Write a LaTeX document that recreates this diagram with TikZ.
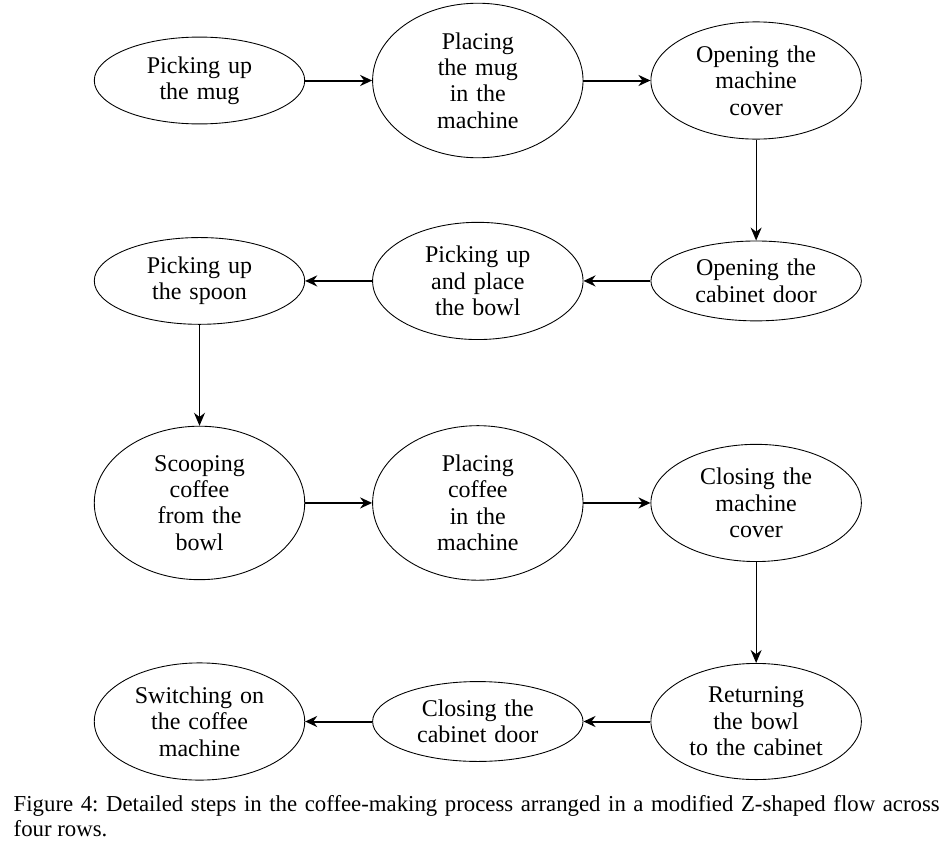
\documentclass[tikz,border=0pt]{standalone}
\usepackage{fontspec}
\setmainfont{Liberation Serif}
\usetikzlibrary{positioning,shapes.geometric,arrows.meta}

\tikzset{
    stepnode/.style={ellipse, draw, line width=0.44pt, inner sep=3.3pt,
        text width=67.8pt, align=center, font=\fontsize{12}{13.2}\selectfont},
    flow/.style={-{Stealth[length=6pt,width=5.5pt]}, line width=1pt},
    drop/.style={-{Stealth[length=6.5pt,width=5.5pt]}, line width=0.5pt}
}

\begin{document}
\begin{tikzpicture}
    	\useasboundingbox (0,0) rectangle (474pt,-423pt);
    	% Nodes, row by row:
    	\node[stepnode] (mug) at (99.75pt,-40.25pt) {Picking up\\the mug};
    	\node[stepnode, right=33.5pt of mug] (placemug) {Placing\\the mug\\in the\\machine};
    	\node[stepnode, right=33.5pt of placemug] (opencover) {Opening the\\machine\\cover};
    	\node[stepnode, below=50.5pt of opencover] (opendoor) {Opening the\\cabinet door};
    	\node[stepnode, left=33.5pt of opendoor] (bowl) {Picking up\\and place\\the bowl};
    	\node[stepnode, left=33.5pt of bowl] (spoon) {Picking up\\the spoon};
    	\node[stepnode, below=50.5pt of spoon] (scoop) {Scooping\\coffee\\from the\\bowl};
    	\node[stepnode, right=33.5pt of scoop] (placecoffee) {Placing\\coffee\\in the\\machine};
    	\node[stepnode, right=33.5pt of placecoffee] (closecover) {Closing the\\machine\\cover};
    	\node[stepnode, below=50.5pt of closecover] (returnbowl) {Returning\\the bowl\\to the cabinet};
    	\node[stepnode, left=33.5pt of returnbowl] (closedoor) {Closing the\\cabinet door};
    	\node[stepnode, left=33.5pt of closedoor] (switchon) {Switching on\\the coffee\\machine};
    	% Arrows:
    	\draw[flow] (mug) -- (placemug);
    	\draw[flow] (placemug) -- (opencover);
    	\draw[drop] (opencover) -- (opendoor);
    	\draw[flow] (opendoor) -- (bowl);
    	\draw[flow] (bowl) -- (spoon);
    	\draw[drop] (spoon) -- (scoop);
    	\draw[flow] (scoop) -- (placecoffee);
    	\draw[flow] (placecoffee) -- (closecover);
    	\draw[drop] (closecover) -- (returnbowl);
    	\draw[flow] (returnbowl) -- (closedoor);
    	\draw[flow] (closedoor) -- (switchon);
    	% Caption:
    	\node[anchor=base west, inner sep=0pt, text width=463pt, align=justify,
    	    font=\fontsize{11.4}{12.5}\selectfont\frenchspacing] (caption) at (6.65pt,-405.85pt)
    	    {Figure 4: Detailed steps in the coffee-making process arranged in a modified Z-shaped flow across\linebreak four rows.};
    \end{tikzpicture}
\end{document}
